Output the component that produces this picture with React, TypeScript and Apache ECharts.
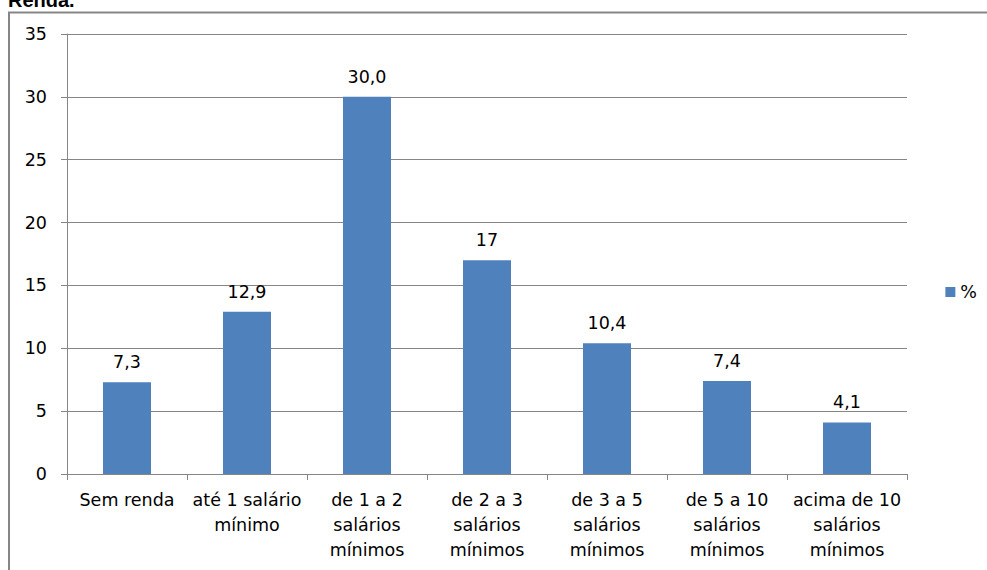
import React, { useEffect, useRef } from "react";
import * as echarts from "echarts";

const categories = [
  "Sem renda",
  "até 1 salário\nmínimo",
  "de 1 a 2\nsalários\nmínimos",
  "de 2 a 3\nsalários\nmínimos",
  "de 3 a 5\nsalários\nmínimos",
  "de 5 a 10\nsalários\nmínimos",
  "acima de 10\nsalários\nmínimos",
];
const values = [7.3, 12.9, 30.0, 17, 10.4, 7.4, 4.1];
const valueLabels = ["7,3", "12,9", "30,0", "17", "10,4", "7,4", "4,1"];
const seriesName = "%";
const titleText = "Renda.";

export default function App() {
  const ref = useRef<HTMLDivElement>(null);
  useEffect(() => {
    if (!ref.current) return;
    const chart = echarts.init(ref.current, null, { renderer: "svg" });
    const font = "'DejaVu Sans', sans-serif";
    const fs = 17.5;
    chart.setOption({
      animation: false,
      backgroundColor: "#ffffff",
      textStyle: { fontFamily: font },
      graphic: [
        {
          type: "rect",
          shape: { x: 9, y: 12.5, width: 1000, height: 600 },
          style: { fill: "none", stroke: "#868686", lineWidth: 2 },
          silent: true,
        },
        {
          type: "text",
          x: 8,
          y: 10,
          style: {
            text: titleText,
            fontFamily: "'Liberation Sans', Arial, sans-serif",
            fontWeight: "bold",
            fontSize: 20,
            fill: "#000",
            textVerticalAlign: "bottom",
          },
        },
      ],
      legend: {
        right: 5,
        top: 278,
        orient: "vertical",
        itemWidth: 10,
        itemHeight: 10,
        icon: "rect",
        itemGap: 6,
        textStyle: { fontSize: fs, color: "#000", fontFamily: font },
        data: [seriesName],
      },
      grid: { left: 67, right: 80, top: 34, bottom: 96, containLabel: false },
      xAxis: {
        type: "category",
        data: categories,
        boundaryGap: true,
        axisLine: { show: true, lineStyle: { color: "#868686", width: 1 } },
        axisTick: { show: true, alignWithLabel: false, length: 6, lineStyle: { color: "#868686" } },
        axisLabel: {
          interval: 0,
          color: "#000",
          fontSize: fs,
          lineHeight: 25,
          margin: 13,
          fontFamily: font,
        },
      },
      yAxis: {
        type: "value",
        min: 0,
        max: 35,
        interval: 5,
        axisLine: { show: true, lineStyle: { color: "#868686", width: 1 } },
        axisTick: { show: true, length: 6, lineStyle: { color: "#868686" } },
        splitLine: { show: true, lineStyle: { color: "#868686", width: 1 } },
        axisLabel: { color: "#000", fontSize: fs, margin: 20, fontFamily: font },
      },
      series: [
        {
          name: seriesName,
          type: "bar",
          data: values,
          barWidth: "40%",
          itemStyle: { color: "#4F81BD" },
          label: {
            show: true,
            position: "top",
            distance: 11,
            color: "#000",
            fontSize: fs,
            fontFamily: font,
            formatter: (p: any) => valueLabels[p.dataIndex],
          },
        },
      ],
    });
    return () => chart.dispose();
  }, []);
  return (
    <div
      ref={ref}
      style={{ position: "fixed", left: 0, top: 0, width: 987, height: 570 }}
    />
  );
}
